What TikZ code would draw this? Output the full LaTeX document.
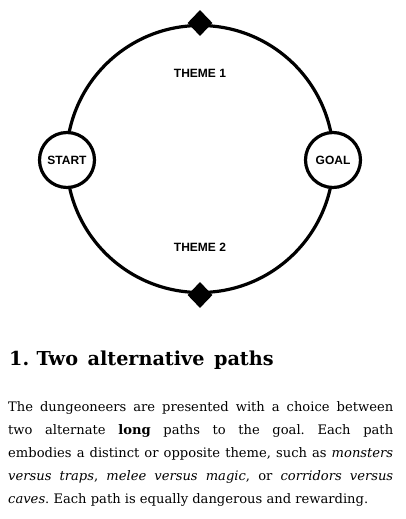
\documentclass[tikz,border=0pt]{standalone}
\usepackage{fontspec}
\setmainfont{DejaVu Serif}
\newfontfamily\labelfont{Liberation Sans}
\usetikzlibrary{shapes.geometric}
\frenchspacing
\tikzset{
  ring/.style={line width=3.2pt},
  endpoint/.style={circle, draw, line width=3.2pt, fill=white, minimum size=55pt, inner sep=0pt, font=\labelfont\bfseries\fontsize{12}{14}\selectfont},
  gem/.style={diamond, fill=black, minimum width=25pt, minimum height=26pt, inner sep=0pt},
  theme/.style={font=\labelfont\bfseries\fontsize{12}{14}\selectfont}
}
\begin{document}
\begin{tikzpicture}[x=1pt,y=1pt]
\useasboundingbox[fill=white] (0,0) rectangle (405,519);
\coordinate (c) at (200,360);
\draw[ring] (c) circle[radius=133.5pt];
\node[endpoint] (start) at (67,359) {START};
\node[endpoint] (goal) at (333,359) {GOAL};
\node[gem] (g1) at (200,496) {};
\node[gem] (g2) at (200,224) {};
\node[theme] (t1) at (200,446) {THEME 1};
\node[theme] (t2) at (200,272) {THEME 2};
\node[anchor=base west, inner sep=0pt, font=\bfseries\fontsize{19.2}{22}\selectfont] (head) at (9,153) {1.\hspace{0.38em}Two\hspace{0.5em}alternative\hspace{0.5em}paths};
\node[anchor=base west, inner sep=0pt, text width=385pt, align=justify, font=\fontsize{13.1}{23}\selectfont] (body) at (8,107)
{The dungeoneers are presented with a choice between\linebreak
two alternate \textbf{long} paths to the goal. Each path\linebreak
embodies a distinct or opposite theme, such as \textit{monsters}\linebreak
\textit{versus traps}, \textit{melee versus magic}, or \textit{corridors versus}\linebreak
\textit{caves}. Each path is equally dangerous and rewarding.};
\end{tikzpicture}
\end{document}
